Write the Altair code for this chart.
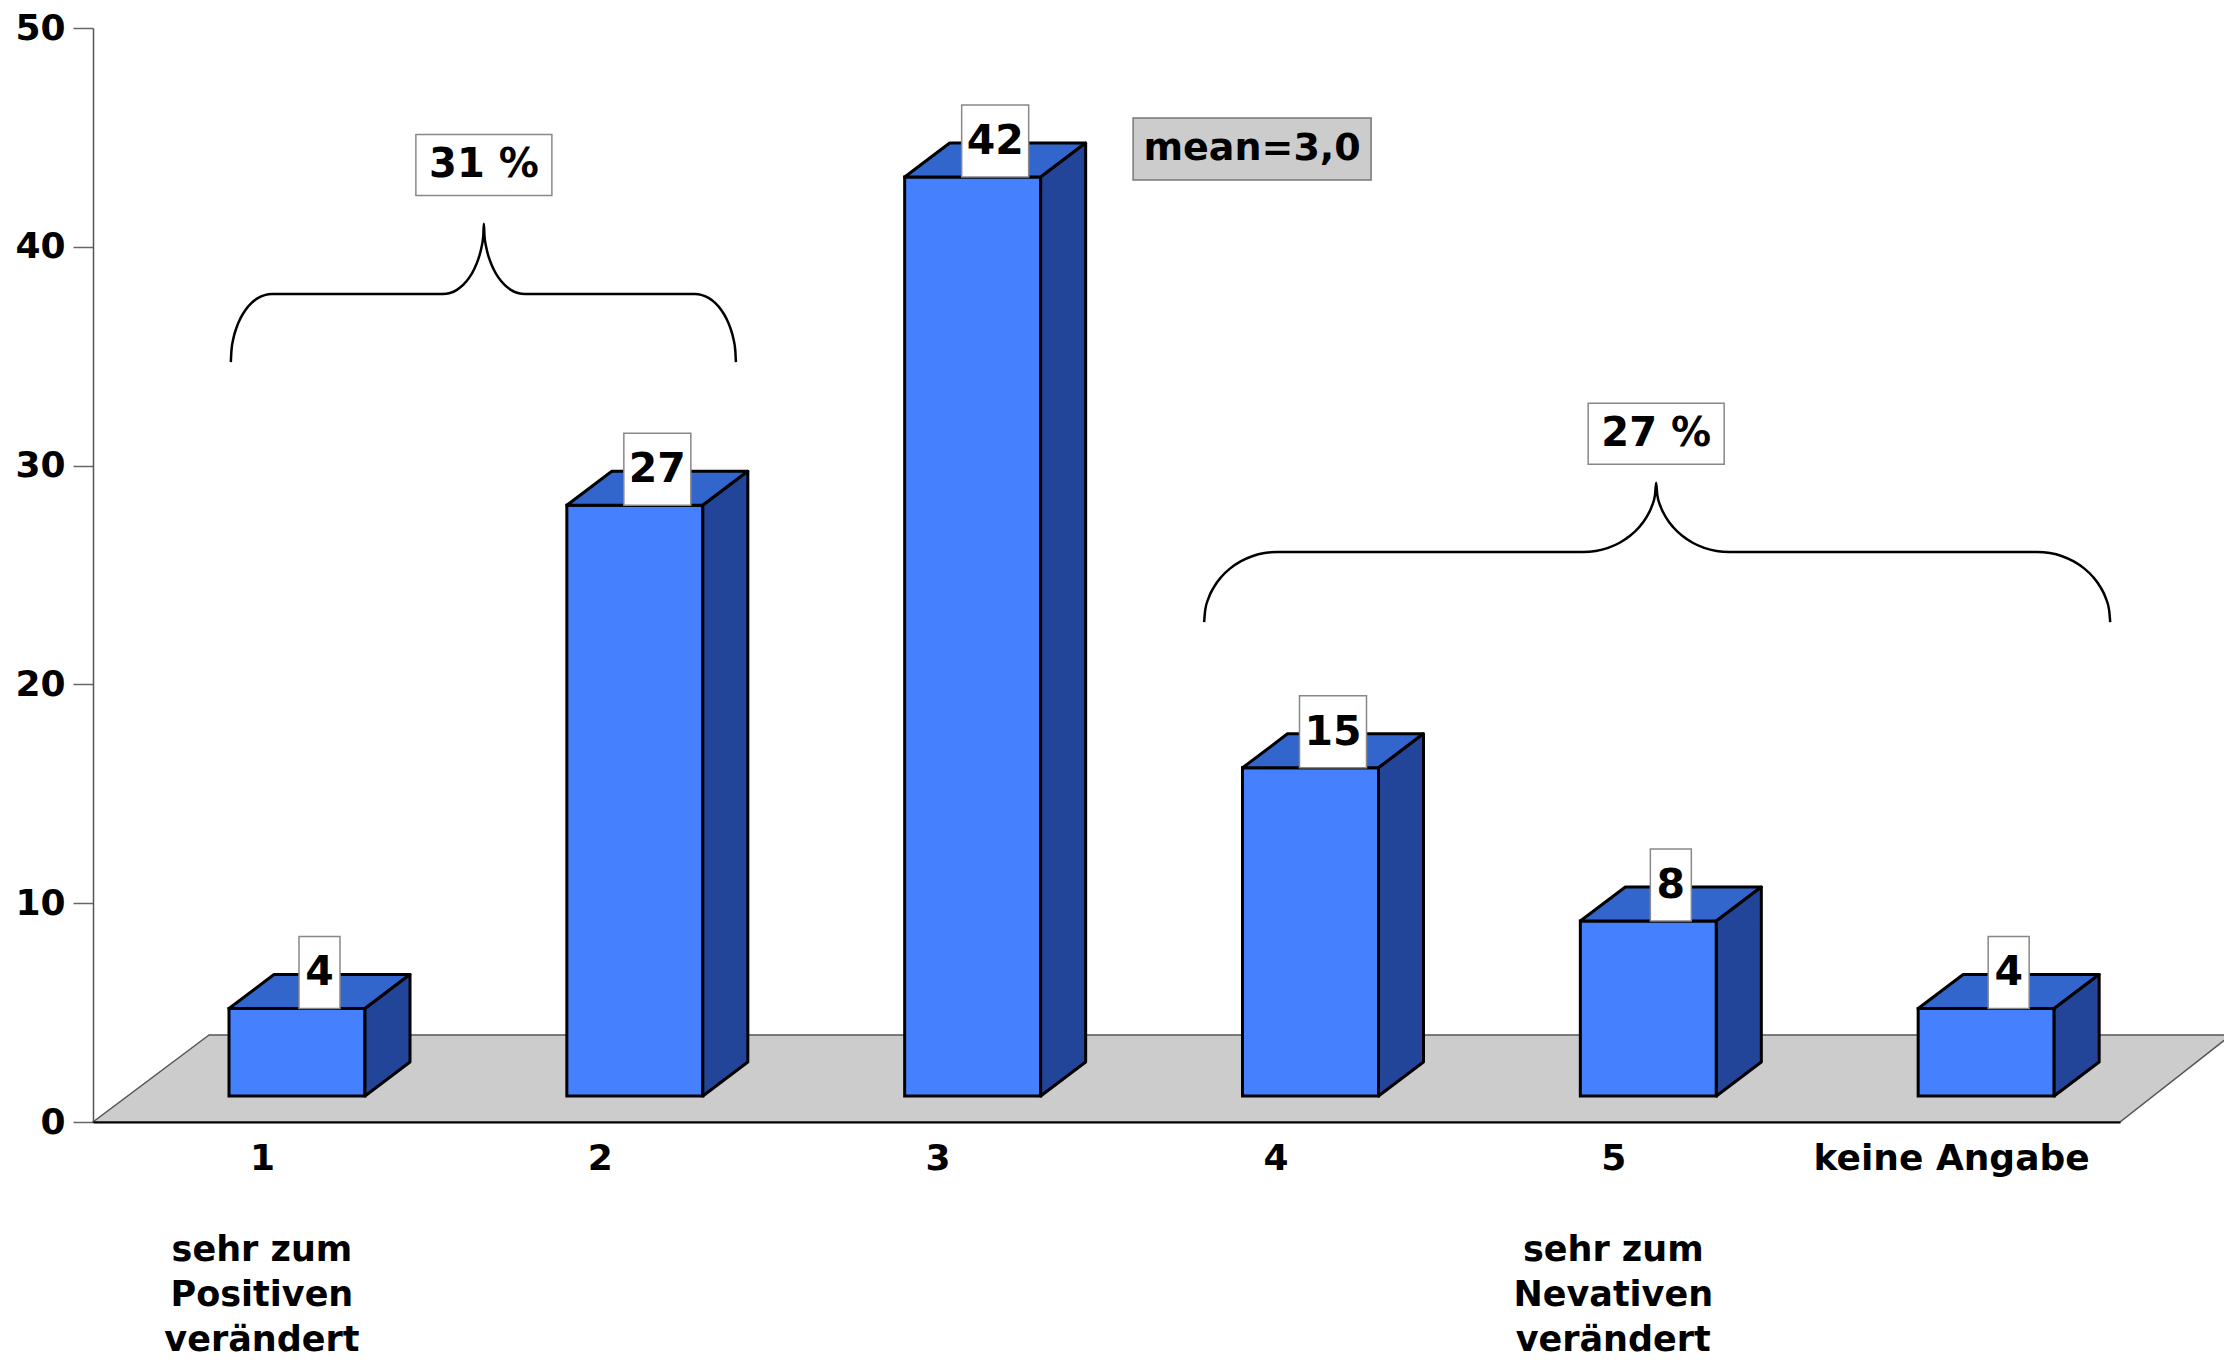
import math
import altair as alt
import pandas as pd

# ---------------- data ----------------
categories = ["1", "2", "3", "4", "5", "keine Angabe"]
values = [4, 27, 42, 15, 8, 4]
y_ticks = [0, 10, 20, 30, 40, 50]
end_label_cats = ["1", "5"]
end_label_lines = [["sehr zum", "Positiven", "verändert"],
                   ["sehr zum", "Nevativen", "verändert"]]
group_labels = ["31 %", "27 %"]
mean_label = "mean=3,0"

# ---------------- geometry / style ----------------
W, H = 2027, 1094
X_MAX, Y_MAX = len(categories), 50
UX = W / X_MAX
UY = H / Y_MAX


def ux(px):
    return px / UX


def uy(px):
    return px / UY


BAR_OFF, BAR_W = ux(136), ux(136)
DX, DY = ux(45), uy(34)
BASE = uy(26)
FONT = "DejaVu Sans"

# brace annotations (data units)
braces = [
    dict(x0=0.408, x1=1.903, xc=1.157, y_end=34.73, y_mid=37.84, y_tip=41.05, r=ux(41), box_y=43.74),
    dict(x0=3.289, x1=5.971, xc=4.627, y_end=22.85, y_mid=26.05, y_tip=29.22, r=ux(73), box_y=31.45),
]
mean_pos = dict(x=3.431, y=44.47)

X_SCALE = alt.Scale(domain=[0, X_MAX], nice=False, zero=False)
Y_SCALE = alt.Scale(domain=[0, Y_MAX], nice=False, zero=False)
label_expr = "[" + ",".join("'%s'" % c for c in categories) + "][floor(datum.value)]"
X_AXIS = alt.Axis(values=[i + 0.5 for i in range(X_MAX)], labelExpr=label_expr, ticks=False, tickSize=0,
                  domainColor="black", domainWidth=2, labelPadding=19, labelFont=FONT, labelFontSize=36,
                  labelFontWeight="bold", labelColor="black", grid=False, title=None, labelFlush=False,
                  labelOverlap=False, labelLimit=0, zindex=1)
Y_AXIS = alt.Axis(values=y_ticks, tickSize=20, tickColor="#666666", tickWidth=1.5, domainColor="#555555",
                  domainWidth=1.5, labelPadding=8, labelFont=FONT, labelFontSize=36, labelFontWeight="bold",
                  labelColor="black", grid=False, title=None, labelFlush=False, labelOverlap=False, format="d")


def X(f="x"):
    return alt.X(f + ":Q", scale=X_SCALE, axis=X_AXIS, stack=False)


def Y(f="y"):
    return alt.Y(f + ":Q", scale=Y_SCALE, axis=Y_AXIS, stack=False)


# ---------------- tables ----------------
floor_df = pd.DataFrame([
    {"y": 0.0, "x": 0.0, "x2": float(X_MAX)},
    {"y": uy(87), "x": ux(116), "x2": X_MAX + ux(111)},
])

front_rows, top_rows, side_rows, vbox_rows = [], [], [], []
for i, (c, v) in enumerate(zip(categories, values)):
    xl = i + BAR_OFF
    xr = xl + BAR_W
    yb = BASE
    yt = BASE + v
    front_rows.append({"bar": c, "x": xl, "x2": xr, "y": yb, "y2": yt})
    top_rows += [{"bar": c, "y": yt, "x": xl, "x2": xr},
                 {"bar": c, "y": yt + DY, "x": xl + DX, "x2": xr + DX}]
    side_rows += [{"bar": c, "x": xr, "y": yb, "y2": yt},
                  {"bar": c, "x": xr + DX, "y": yb + DY, "y2": yt + DY}]
    txt = str(v)
    cx = (xl + xr) / 2 + DX / 2
    bw = ux(15 + 26 * len(txt))
    vbox_rows.append({"bar": c, "label": txt, "x": cx - bw / 2, "x2": cx + bw / 2,
                      "y": yt, "y2": yt + uy(72), "cx": cx, "cy": yt + uy(35)})

front_df = pd.DataFrame(front_rows)
top_df = pd.DataFrame(top_rows)
side_df = pd.DataFrame(side_rows)
vbox_df = pd.DataFrame(vbox_rows)

# brace paths
brace_rows = []
steps = 9
for b, br in enumerate(braces):
    pts = []
    r = br["r"]
    for k in range(steps + 1):
        t = math.pi / 2 * k / steps
        pts.append((br["x0"] + r * (1 - math.cos(t)), br["y_end"] + (br["y_mid"] - br["y_end"]) * math.sin(t)))
    for k in range(steps + 1):
        t = math.pi / 2 * k / steps
        pts.append((br["xc"] - r + r * math.sin(t), br["y_mid"] + (br["y_tip"] - br["y_mid"]) * (1 - math.cos(t))))
    for k in range(steps + 1):
        t = math.pi / 2 * k / steps
        pts.append((br["xc"] + r - r * math.cos(t), br["y_tip"] - (br["y_tip"] - br["y_mid"]) * math.sin(t)))
    for k in range(steps + 1):
        t = math.pi / 2 * k / steps
        pts.append((br["x1"] - r + r * math.sin(t), br["y_mid"] - (br["y_mid"] - br["y_end"]) * (1 - math.cos(t))))
    for j, (px, py) in enumerate(pts):
        brace_rows.append({"brace": b, "ord": j, "x": px, "y": py})
brace_df = pd.DataFrame(brace_rows)

gbox_df = pd.DataFrame([
    {"label": lab, "cx": br["xc"], "cy": br["box_y"],
     "x": br["xc"] - ux(68), "x2": br["xc"] + ux(68),
     "y": br["box_y"] - uy(30.5), "y2": br["box_y"] + uy(30.5)}
    for lab, br in zip(group_labels, braces)
])

mean_df = pd.DataFrame([{
    "label": mean_label, "cx": mean_pos["x"], "cy": mean_pos["y"],
    "x": mean_pos["x"] - ux(119), "x2": mean_pos["x"] + ux(119),
    "y": mean_pos["y"] - uy(31), "y2": mean_pos["y"] + uy(31)}])

end_df = pd.DataFrame([
    {"label": "\n".join(lines), "x": categories.index(c) + 0.5, "y": -uy(1250 - 1122)}
    for c, lines in zip(end_label_cats, end_label_lines)
])

# ---------------- layers ----------------
floor = alt.Chart(floor_df).mark_area(orient="horizontal", color="#cccccc", stroke="#555555",
                                      strokeWidth=1.5).encode(y=Y("y"), x=X("x"), x2="x2")

front = alt.Chart(front_df).mark_rect(color="#4580ff", stroke="black", strokeWidth=3).encode(
    x=X("x"), x2="x2", y=Y("y"), y2="y2")

top = alt.Chart(top_df).mark_area(orient="horizontal", color="#3366cc", stroke="black", strokeWidth=3,
                                  strokeJoin="round").encode(
    y=Y("y"), x=X("x"), x2="x2", detail="bar:N")

side = alt.Chart(side_df).mark_area(orient="vertical", color="#224499", stroke="black", strokeWidth=3,
                                    strokeJoin="round").encode(
    x=X("x"), y=Y("y"), y2="y2", detail="bar:N")

vbox = alt.Chart(vbox_df).mark_rect(color="white", stroke="#888888", strokeWidth=1.5).encode(
    x=X("x"), x2="x2", y=Y("y"), y2="y2")
vtext = alt.Chart(vbox_df).mark_text(font=FONT, fontSize=41, fontWeight="bold", color="black",
                                     align="center", baseline="middle").encode(
    x=X("cx"), y=Y("cy"), text="label:N")

brace_lines = alt.Chart(brace_df).mark_line(color="black", strokeWidth=2.5, interpolate="monotone").encode(
    x=X("x"), y=Y("y"), detail="brace:N", order="ord:Q")

gbox = alt.Chart(gbox_df).mark_rect(color="white", stroke="#888888", strokeWidth=1.5).encode(
    x=X("x"), x2="x2", y=Y("y"), y2="y2")
gtext = alt.Chart(gbox_df).mark_text(font=FONT, fontSize=40, fontWeight="bold", color="black",
                                     align="center", baseline="middle").encode(
    x=X("cx"), y=Y("cy"), text="label:N")

mbox = alt.Chart(mean_df).mark_rect(color="#cccccc", stroke="#777777", strokeWidth=1.5).encode(
    x=X("x"), x2="x2", y=Y("y"), y2="y2")
mtext = alt.Chart(mean_df).mark_text(font=FONT, fontSize=38, fontWeight="bold", color="black",
                                     align="center", baseline="middle").encode(
    x=X("cx"), y=Y("cy"), text="label:N")

etext = alt.Chart(end_df).mark_text(font=FONT, fontSize=35, fontWeight="bold", color="black",
                                    align="center", baseline="middle", lineBreak="\n",
                                    lineHeight=45).encode(
    x=X("x"), y=Y("y"), text="label:N")

chart = alt.layer(floor, front, top, side, vbox, vtext, brace_lines, gbox, gtext, mbox, mtext, etext).properties(
    width=W, height=H,
    autosize=alt.AutoSizeParams(type="none"),
    padding={"left": 85, "top": 20, "right": 104, "bottom": 241},
).configure_view(stroke=None)

chart.save("out.html", embed_options={"renderer": "svg", "actions": False})
